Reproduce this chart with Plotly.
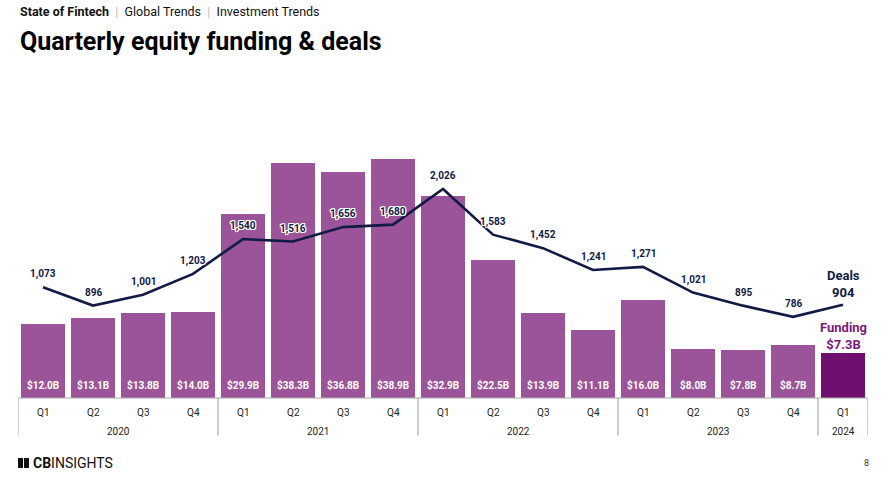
import plotly.graph_objects as go

quarters = ["Q1", "Q2", "Q3", "Q4"] * 4 + ["Q1"]
years = ["2020", "2021", "2022", "2023", "2024"]
year_quarter_counts = [4, 4, 4, 4, 1]
funding = [12.0, 13.1, 13.8, 14.0, 29.9, 38.3, 36.8, 38.9, 32.9, 22.5, 13.9, 11.1, 16.0, 8.0, 7.8, 8.7, 7.3]
deals = [1073, 896, 1001, 1203, 1540, 1516, 1656, 1680, 2026, 1583, 1452, 1241, 1271, 1021, 895, 786, 904]

BAR = "#9b5499"
BAR_LAST = "#6e0e6e"
LINE = "#111b45"
PURPLE_TXT = "#7a1a7a"
FONT = "Roboto"

n = len(funding)
xs = list(range(n))
colors = [BAR] * (n - 1) + [BAR_LAST]

fig = go.Figure()
fig.add_trace(go.Bar(x=xs, y=funding, marker=dict(color=colors, line=dict(width=0)),
                     width=0.88, hoverinfo="skip", yaxis="y"))
fig.add_trace(go.Scatter(x=xs, y=deals, mode="lines", line=dict(color=LINE, width=2.6),
                         yaxis="y2", hoverinfo="skip"))

halo = ", ".join(f"{dx}px {dy}px 0 #fff" for dx in (-1, 0, 1) for dy in (-1, 0, 1) if dx or dy)
ann = []
for i, (f, d) in enumerate(zip(funding, deals)):
    if i < n - 1:
        ann.append(dict(x=i, y=d, xref="x", yref="y2", text=f"{d:,}", showarrow=False, yshift=13,
                        font=dict(family=FONT, size=10, color=LINE, weight="bold", shadow=halo)))
        ann.append(dict(x=i, y=0, xref="x", yref="y", text=f"${f:.1f}B", showarrow=False, yshift=13,
                        yanchor="middle",
                        font=dict(family=FONT, size=10, color="white", weight="bold")))
    ann.append(dict(x=i, y=0, xref="x", yref="paper", text=quarters[i], showarrow=False,
                    yanchor="middle", yshift=-14, font=dict(family=FONT, size=10, color="#222")))

start = 0
shapes = [dict(type="line", xref="x", yref="paper", x0=-0.5, x1=n - 0.5, y0=0, y1=0,
               line=dict(color="#aaaaaa", width=1))]
bounds = [-0.5]
for yr, cnt in zip(years, year_quarter_counts):
    mid = start + (cnt - 1) / 2
    ann.append(dict(x=mid, y=0, xref="x", yref="paper", text=yr, showarrow=False,
                    yanchor="middle", yshift=-33, font=dict(family=FONT, size=10, color="#222")))
    start += cnt
    bounds.append(start - 0.5)
for b in bounds:
    shapes.append(dict(type="line", xref="x", yref="paper", x0=b, x1=b, y0=0, y1=-0.145,
                       line=dict(color="#aaaaaa", width=1.2)))

ann += [
    dict(x=n - 1, y=deals[-1], xref="x", yref="y2", text="<b>Deals</b><br><b>904</b>", showarrow=False,
         yshift=21, font=dict(family=FONT, size=13, color=LINE)),
    dict(x=n - 1, y=funding[-1], xref="x", yref="y", text="<b>Funding</b><br><b>$7.3B</b>", showarrow=False,
         yshift=17, font=dict(family=FONT, size=13, color=PURPLE_TXT)),
]

ann += [
    dict(x=18, y=11, text="<b>State of Fintech</b>  <span style='color:#bbbbbb'>|</span>  Global Trends  <span style='color:#bbbbbb'>|</span>  Investment Trends",
         showarrow=False, xanchor="left", yanchor="middle", font=dict(family=FONT, size=12.5, color="#111")),
    dict(x=18, y=41, text="<b>Quarterly equity funding &amp; deals</b>", showarrow=False,
         xanchor="left", yanchor="middle", font=dict(family=FONT, size=25, color="#000")),
    dict(x=31, y=463, text="<b>CB</b>INSIGHTS", showarrow=False, xanchor="left", yanchor="middle",
         font=dict(family="Liberation Sans Narrow, Roboto", size=14, color="#111")),
    dict(x=866, y=463, text="8", showarrow=False, xanchor="center", yanchor="middle",
         font=dict(family=FONT, size=9, color="#333")),
]
W, H = 891, 490
L, R, T, B = 18, 23, 140, 92
pw, ph = W - L - R, H - T - B
fixed = []
for a in ann:
    if a.get("xref") is None:
        a["xref"] = "paper"; a["yref"] = "paper"
        a["x"] = (a["x"] - L) / pw
        a["y"] = (H - B - a["y"]) / ph
    fixed.append(a)

shapes.append(dict(type="rect", xref="paper", yref="paper",
                   x0=(18 - L) / pw, x1=(29 - L) / pw, y0=(H - B - 468) / ph, y1=(H - B - 458) / ph,
                   fillcolor="#111", line=dict(width=0)))
shapes.append(dict(type="line", xref="paper", yref="paper",
                   x0=(23.5 - L) / pw, x1=(23.5 - L) / pw, y0=(H - B - 468) / ph, y1=(H - B - 458) / ph,
                   line=dict(color="white", width=1)))

fig.update_layout(
    width=W, height=H, margin=dict(l=L, r=R, t=T, b=B),
    paper_bgcolor="white", plot_bgcolor="white", showlegend=False,
    xaxis=dict(range=[-0.5, n - 0.5], showticklabels=False, showgrid=False, zeroline=False, ticks=""),
    yaxis=dict(range=[0, 42], visible=False, showgrid=False),
    yaxis2=dict(range=[0, 2500], overlaying="y", visible=False, showgrid=False),
    annotations=fixed, shapes=shapes, bargap=0,
)
fig.write_html("out.html")
